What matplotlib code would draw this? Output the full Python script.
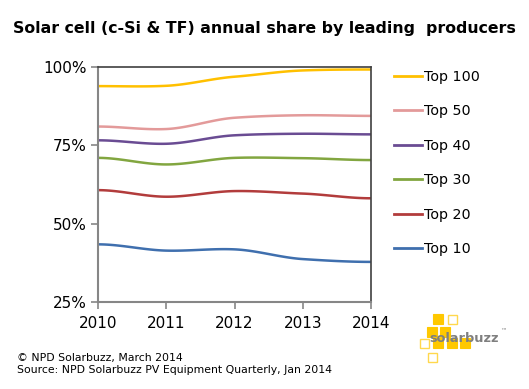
import numpy as np
import matplotlib
matplotlib.use("Agg")
import matplotlib.pyplot as plt
from matplotlib.patches import Rectangle
from matplotlib.lines import Line2D

years = [2010, 2011, 2012, 2013, 2014]
series_names = ["Top 100", "Top 50", "Top 40", "Top 30", "Top 20", "Top 10"]
top100 = [93.9, 94.0, 96.9, 98.9, 99.2]
top50 = [81.0, 80.2, 83.8, 84.6, 84.4]
top40 = [76.6, 75.5, 78.2, 78.7, 78.5]
top30 = [71.0, 68.9, 71.0, 70.9, 70.3]
top20 = [60.7, 58.6, 60.4, 59.6, 58.1]
top10 = [43.4, 41.4, 41.8, 38.7, 37.8]
colors = ["#FFC000", "#E39A9A", "#6A4C93", "#82A640", "#B23C3C", "#3F6FAE"]
ytick_vals = [25, 50, 75, 100]
ytick_labels = ["25%", "50%", "75%", "100%"]

plt.rcParams['font.family'] = ['DejaVu Sans']
W, H = 529, 389
fig = plt.figure(figsize=(W / 100, H / 100), dpi=100)

ax = fig.add_axes([98 / W, 1 - 302 / H, (371 - 98) / W, (302 - 67) / H])


def smooth(x, y, n=30, k=0.35):
    # cubic Hermite smoothing with reduced tangents (Excel-like smoothed line)
    x = np.asarray(x, float)
    y = np.asarray(y, float)
    m = np.zeros_like(y)
    m[1:-1] = (y[2:] - y[:-2]) * k
    xs, ys = [], []
    t = np.linspace(0, 1, n)
    h00 = 2 * t ** 3 - 3 * t ** 2 + 1
    h10 = t ** 3 - 2 * t ** 2 + t
    h01 = -2 * t ** 3 + 3 * t ** 2
    h11 = t ** 3 - t ** 2
    for i in range(len(x) - 1):
        seg_y = h00 * y[i] + h10 * m[i] + h01 * y[i + 1] + h11 * m[i + 1]
        seg_x = x[i] + t * (x[i + 1] - x[i])
        xs.extend(seg_x if i == 0 else seg_x[1:])
        ys.extend(seg_y if i == 0 else seg_y[1:])
    return np.array(xs), np.array(ys)


data = [top100, top50, top40, top30, top20, top10]
for name, vals, c in zip(series_names, data, colors):
    sx, sy = smooth(years, vals)
    ax.plot(sx, sy, color=c, lw=1.8, solid_capstyle='butt')

ax.set_xlim(2010, 2014)
ax.set_ylim(25, 100)
ax.set_xticks(years)
ax.set_xticklabels([str(y) for y in years])
ax.set_yticks(ytick_vals)
ax.set_yticklabels(ytick_labels)
for s in ['left', 'bottom']:
    ax.spines[s].set_color('#868686')
    ax.spines[s].set_linewidth(1.5)
for s in ['top', 'right']:
    ax.spines[s].set_color('#404040')
    ax.spines[s].set_linewidth(1.2)
ax.tick_params(axis='both', colors='#868686', labelcolor='#000000', labelsize=11,
               length=5, width=1.2, direction='out')
ax.tick_params(axis='y', pad=3)
ax.tick_params(axis='x', pad=5)

fig.text(264 / W, 1 - 28 / H, "Solar cell (c-Si & TF) annual share by leading  producers",
         ha='center', va='center', fontsize=11.3, fontweight='bold')

# legend
handles = [Line2D([0], [0], color=c, lw=2) for c in colors]
leg = fig.legend(handles, series_names, loc='upper left', bbox_to_anchor=(388 / W, 1 - 64 / H),
                 frameon=False, fontsize=10.3, handlelength=2.0, handletextpad=0.1,
                 labelspacing=1.43, borderaxespad=0)

fig.text(17 / W, 1 - 358 / H, "© NPD Solarbuzz, March 2014", fontsize=7.8, va='center', ha='left')
fig.text(17 / W, 1 - 370 / H, "Source: NPD Solarbuzz PV Equipment Quarterly, Jan 2014",
         fontsize=7.8, va='center', ha='left')

# logo
lax = fig.add_axes([0, 0, 1, 1], zorder=5)
lax.set_xlim(0, W)
lax.set_ylim(H, 0)
lax.axis('off')
gold = "#FFC800"
squares = [
    (433, 314, True), (447, 314, False),
    (427, 327, True), (440, 327, True),
    (419, 338, False), (433, 338, True), (447, 338, True), (460, 338, True),
    (427, 352, False),
]
for x, y, filled in squares:
    if filled:
        lax.add_patch(Rectangle((x, y), 10, 10, facecolor=gold, edgecolor=gold, lw=0.8))
    else:
        lax.add_patch(Rectangle((x + 0.5, y + 0.5), 9, 9, facecolor='none', edgecolor='#FFD84D', lw=1.0))
lax.text(429, 338, "solarbuzz", fontsize=9.3, fontweight='bold', color='#7F7F7F',
         ha='left', va='center')
lax.text(500, 332, "™", fontsize=4.5, color='#7F7F7F', ha='left', va='center')

fig.savefig("out.png", dpi=100)
